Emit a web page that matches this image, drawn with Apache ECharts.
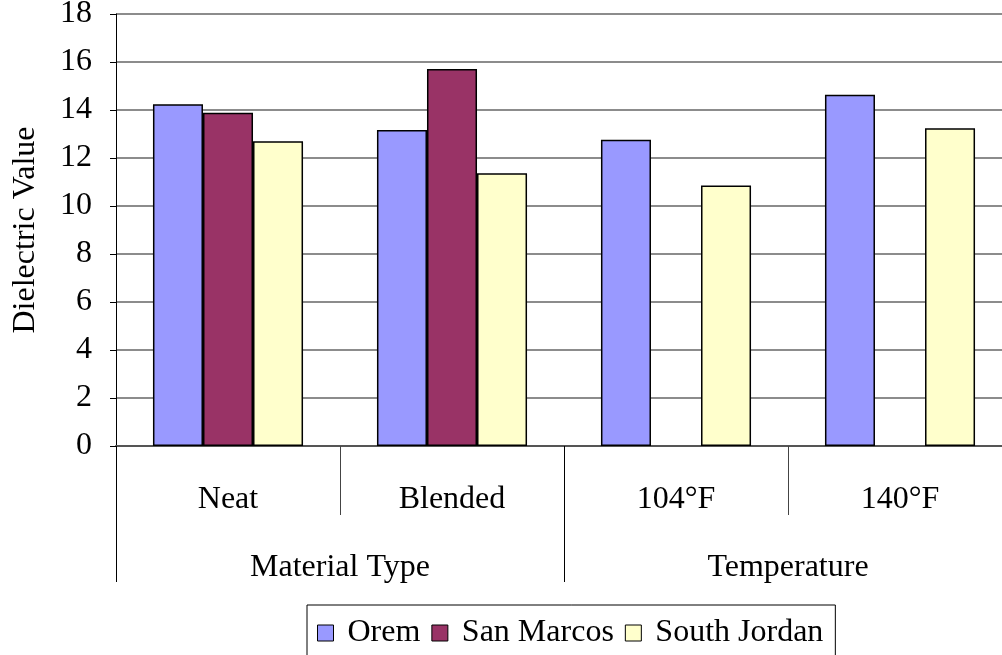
<!DOCTYPE html>
<html>
<head>
<meta charset="utf-8">
<script src="https://cdn.jsdelivr.net/npm/echarts@6/dist/echarts.min.js"></script>
<style>
  html, body { margin: 0; padding: 0; background: #fff; }
  #chart { width: 1002px; height: 655px; }
</style>
</head>
<body>
<div id="chart"></div>
<script>
// Dielectric value by material type and test temperature
const categories = ['Neat', 'Blended', '104°F', '140°F'];
const groups = ['Material Type', 'Temperature'];
const seriesNames = ['Orem', 'San Marcos', 'South Jordan'];
const orem = [14.24, 13.17, 12.76, 14.64];
const sanMarcos = [13.89, 15.71, null, null];
const southJordan = [12.70, 11.36, 10.85, 13.24];
const seriesColors = ['#9999FF', '#993366', '#FFFFCC'];
const yTicks = { min: 0, max: 18, interval: 2 };

const FONT = '"Liberation Serif", "Times New Roman", serif';
const textStyle = { fontFamily: FONT, fontSize: 32, color: '#000' };

const chart = echarts.init(document.getElementById('chart'), null, { renderer: 'canvas' });

const values = [orem, sanMarcos, southJordan];

chart.setOption({
  animation: false,
  backgroundColor: '#fff',
  // the plot runs slightly past the right edge of the canvas
  grid: {
    left: 116, top: 14, width: 896, height: 432,
    containLabel: false,
    outerBoundsMode: 'none'
  },
  legend: {
    data: seriesNames,
    left: 307,
    top: 605,
    width: 540,
    padding: [12, 12, 12, 10],
    borderColor: '#000',
    borderWidth: 1,
    itemGap: 11,
    itemWidth: 16,
    itemHeight: 16,
    icon: 'rect',
    itemStyle: { borderColor: '#000', borderWidth: 1 },
    textStyle: Object.assign({}, textStyle, { padding: [0, 0, 0, 9] })
  },
  xAxis: [
    {
      // category labels
      type: 'category',
      data: categories,
      position: 'bottom',
      axisLine: { show: true, onZero: false, lineStyle: { color: '#555', width: 2 } },
      axisTick: { show: false },
      axisLabel: Object.assign({ margin: 38, interval: 0 }, textStyle),
      splitLine: { show: false }
    },
    {
      // group labels
      type: 'category',
      data: groups,
      position: 'bottom',
      axisLine: { show: false },
      axisTick: { show: false },
      axisLabel: Object.assign({ margin: 106, interval: 0 }, textStyle),
      splitLine: { show: false }
    },
    {
      // separators between categories inside a group
      type: 'value',
      min: 0, max: 4, interval: 1,
      position: 'bottom',
      axisLine: { show: false },
      axisTick: { show: true, inside: false, length: 69, customValues: [1, 3], lineStyle: { color: '#444', width: 1 } },
      axisLabel: { show: false },
      splitLine: { show: false }
    },
    {
      // separators between groups
      type: 'value',
      min: 0, max: 4, interval: 2,
      position: 'bottom',
      axisLine: { show: false },
      axisTick: { show: true, inside: false, length: 136, customValues: [0, 2], lineStyle: { color: '#000', width: 1 } },
      axisLabel: { show: false },
      splitLine: { show: false }
    }
  ],
  yAxis: {
    type: 'value',
    min: yTicks.min,
    max: yTicks.max,
    interval: yTicks.interval,
    name: 'Dielectric Value',
    nameLocation: 'middle',
    nameGap: 74,
    nameTextStyle: textStyle,
    axisLine: { show: true, lineStyle: { color: '#000', width: 1 } },
    axisTick: { show: true, inside: false, length: 6, lineStyle: { color: '#000' } },
    axisLabel: Object.assign({ margin: 24 }, textStyle),
    splitLine: { show: true, lineStyle: { color: '#666', width: 1.5 } }
  },
  series: seriesNames.map((name, i) => ({
    name: name,
    type: 'bar',
    xAxisIndex: 0,
    data: values[i],
    barGap: '0%',
    barCategoryGap: '33%',
    itemStyle: { color: seriesColors[i], borderColor: '#000', borderWidth: 1.5 }
  }))
});
</script>
</body>
</html>
